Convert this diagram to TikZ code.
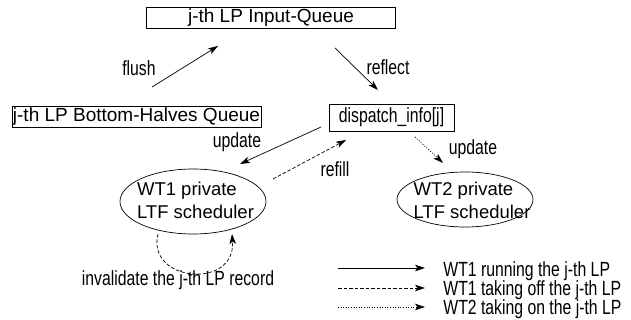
\documentclass[tikz,border=0pt]{standalone}
\usepackage{fontspec}
\setmainfont{Liberation Sans}
\newfontfamily\narrowfont[FakeStretch=0.77]{Liberation Sans}
\usetikzlibrary{arrows.meta,shapes.geometric}
\begin{document}
\begin{tikzpicture}[x=1pt,y=-1pt,
  font=\fontsize{18.5}{23}\selectfont,
  line width=0.7pt,
  box/.style={draw, inner sep=0pt, rectangle, font=\fontsize{19}{23}\selectfont},
  oval/.style={draw, ellipse, inner sep=0pt},
  lbl/.style={inner sep=0pt, anchor=base, font=\fontsize{20.5}{20}\selectfont\narrowfont},
  arr/.style={-{Stealth[length=10pt,width=6.5pt,inset=2.5pt]}},
  dsh/.style={arr, dash pattern=on 3.5pt off 2pt},
  dtt/.style={arr, dash pattern=on 1pt off 1.6pt}
]
\useasboundingbox (0,0) rectangle (631,320);

% boxes
\node[box, minimum width=249pt, minimum height=21pt] (iq) at (271,17.5) {j-th LP Input-Queue};
\node[box, minimum width=249pt, minimum height=21pt] (bh) at (136.5,116.5) {j-th LP Bottom-Halves Queue};
\node[box, minimum width=125pt, minimum height=27pt, font=\fontsize{20.5}{20}\selectfont\narrowfont] (di) at (391.5,117.5) {dispatch\_info[j]};

% ellipses
\node[oval, minimum width=146pt, minimum height=65pt] (w1) at (193,201.5) {};
\node[inner sep=0pt, align=left] (w1t) at (195.5,200.5) {WT1 private\\LTF scheduler};
\node[oval, minimum width=136pt, minimum height=55pt] (w2) at (465,199.5) {};
\node[inner sep=0pt, align=left] (w2t) at (472,200.5) {WT2 private\\LTF scheduler};

% connector end points
\coordinate (f1) at (152,87);   \coordinate (f2) at (218,46);
\coordinate (r1) at (335,48);   \coordinate (r2) at (378,90);
\coordinate (u1) at (321,127);  \coordinate (u2) at (240,164);
\coordinate (q1) at (273,179);  \coordinate (q2) at (346,140);
\coordinate (d1) at (415,137);  \coordinate (d2) at (443,163);
\coordinate (s1) at (158,234);  \coordinate (s2) at (232,234);

\draw[arr] (f1) -- (f2);
\draw[arr] (r1) -- (r2);
\draw[arr] (u1) -- (u2);
\draw[dsh] (q1) -- (q2);
\draw[dtt] (d1) -- (d2);
\draw[dsh] (s1) .. controls (146,282) and (236,290) .. (s2);

% labels
\node[lbl] (lf) at (139,76) {flush};
\node[lbl] (lr) at (388,75) {reflect};
\node[lbl] (lu) at (237,148) {update};
\node[lbl] (lq) at (335,176.5) {refill};
\node[lbl] (ld) at (473,155) {update};
\node[lbl] (li) at (178,285.5) {invalidate the j-th LP record};

% legend
\coordinate (a1) at (338,268); \coordinate (b1) at (425,268);
\coordinate (a2) at (338,288); \coordinate (b2) at (425,288);
\coordinate (a3) at (338,307); \coordinate (b3) at (425,307);
\draw[arr] (a1) -- (b1);
\draw[dsh] (a2) -- (b2);
\draw[dtt] (a3) -- (b3);
\node[lbl, anchor=base west] (t1) at (443,276.5) {WT1 running the j-th LP};
\node[lbl, anchor=base west] (t2) at (443,295.5) {WT1 taking off the j-th LP};
\node[lbl, anchor=base west] (t3) at (443,314.5) {WT2 taking on the j-th LP};
\end{tikzpicture}
\end{document}
